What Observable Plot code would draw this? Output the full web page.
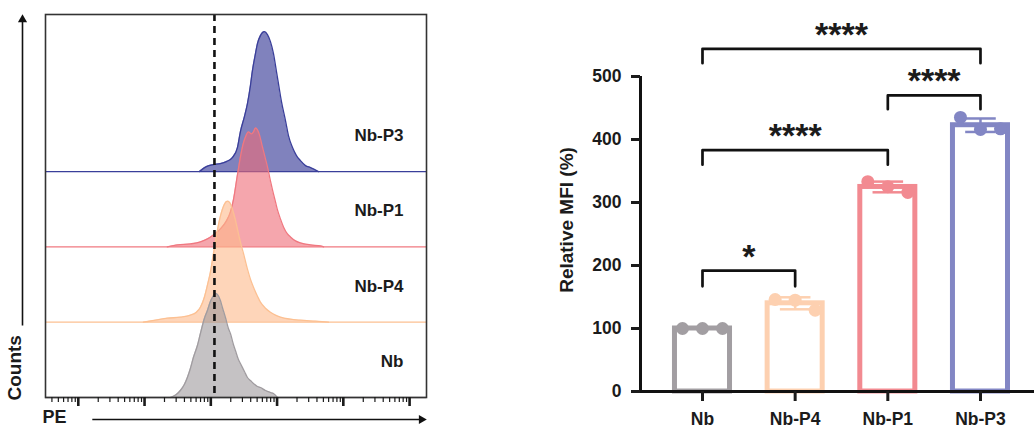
<!DOCTYPE html>
<html><head><meta charset="utf-8">
<script src="https://cdn.jsdelivr.net/npm/d3@7"></script>
<script src="https://cdn.jsdelivr.net/npm/@observablehq/plot@0.6"></script>
<style>
body{margin:0;background:#fff;}
#wrap{position:relative;width:1034px;height:432px;overflow:hidden;font-family:"Liberation Sans",Arial,sans-serif;}
#left{position:absolute;left:0;top:0;width:440px;height:432px;}
#right{position:absolute;left:540px;top:0;width:494px;height:432px;}
</style></head><body>
<div id="wrap"><div id="left"></div><div id="right"></div></div>
<script>
// ---------- Left panel: flow cytometry histograms (PE, log scale) ----------
const histGroups = ["Nb", "Nb-P4", "Nb-P1", "Nb-P3"]; // bottom to top
const nbPE = [245, 302, 347, 399, 443, 492, 546, 628, 697, 800, 889, 986, 1057, 1173, 1259, 1396, 1497, 1663, 1845, 1977, 2194, 2353, 2612, 2799, 3219, 3573, 3963, 4406, 5058, 5610, 6683, 7943, 8831, 10139];
const nbCounts = [0, 3, 7, 13, 20, 29, 40, 52, 64, 79, 87, 96, 100, 104, 103, 97, 90, 80, 69, 64, 53, 47, 38, 34, 26, 20, 17, 14, 11, 10, 7, 5, 4, 0];
const p4PE = [96, 146, 221, 347, 492, 606, 697, 800, 889, 986, 1057, 1173, 1259, 1396, 1497, 1605, 1782, 1910, 2119, 2353, 2523, 2799, 3105, 3573, 3963, 4406, 5058, 5610, 6683, 7943, 9462, 11246, 15926, 22542, 38019, 59700];
const p4Counts = [0, 2, 4, 5, 7, 10, 15, 25, 37, 50, 62, 80, 92, 106, 113, 118, 121, 120, 113, 102, 93, 80, 69, 53, 43, 35, 26, 20, 14, 10, 7, 5, 3, 2, 1, 0];
const p1PE = [221, 313, 492, 697, 889, 1094, 1396, 1721, 1977, 2194, 2523, 2799, 3105, 3334, 3698, 4104, 4406, 4721, 5058, 5420, 6012, 6683, 7161, 7943, 8531, 9462, 10139, 11246, 12496, 14355, 15926, 18967, 22542, 31977, 45290, 50234];
const p1Counts = [0, 2, 3, 5, 8, 12, 18, 26, 35, 47, 72, 90, 104, 110, 115, 113, 115, 119, 117, 112, 100, 88, 80, 66, 57, 45, 37, 28, 20, 13, 10, 6, 4, 2, 1, 0];
const p3PE = [673, 859, 1094, 1396, 1721, 2119, 2523, 2799, 3219, 3573, 3963, 4249, 4721, 5058, 5610, 6457, 7161, 7943, 8831, 9795, 10495, 11652, 13397, 14859, 17096, 19634, 22542, 26853, 31977, 42170];
const p3Counts = [0, 5, 7, 8, 10, 14, 24, 40, 55, 68, 86, 101, 118, 128, 136, 140, 137, 130, 118, 100, 88, 70, 51, 36, 24, 16, 11, 6, 4, 0];
const histFill = ["#9e9a9c", "#fdb98a", "#ef6b76", "#3c3f99"];
const histStroke = ["#a09ca0", "#fcc092", "#f07880", "#3a3f9a"];
const histOpacity = [0.6, 0.6, 0.6, 0.65];
const cutoffPE = 1135;
const peDomain = [3.2, 1.8e6];
const majorTicks = [10, 100, 1000, 1e4, 1e5, 1e6];

const histPE = [nbPE, p4PE, p1PE, p3PE];
const histCounts = [nbCounts, p4Counts, p1Counts, p3Counts];
const rowStep = 75.3;
const series = histGroups.map((name, k) => ({
  name, base: k * rowStep, fill: histFill[k], stroke: histStroke[k], opacity: histOpacity[k],
  points: histPE[k].map((pe, j) => ({pe, base: k * rowStep, top: k * rowStep + histCounts[k][j]}))
}));
const drawOrder = [...series].reverse();
const minorTicks = d3.range(0, 7).flatMap(e => d3.range(2, 10).map(k => k * Math.pow(10, e)))
  .filter(v => v > peDomain[0] && v < peDomain[1]);

const histMarks = drawOrder.flatMap(s => [
  Plot.ruleY([s.base], {stroke: s.stroke, strokeWidth: 1.3}),
  Plot.area(s.points, {x1: "pe", y1: "base", y2: "top", fill: s.fill, fillOpacity: s.opacity, curve: "monotone-x"}),
  Plot.line(s.points, {x: "pe", y: "top", stroke: s.stroke, strokeWidth: 1.3, curve: "monotone-x"})
]);

const countsArrow = [{pe: peDomain[0], y1: 72, y2: 378, tip: 383}];
const peArrow = [{x1: 18.7, x2: peDomain[1], y: 0}];

const leftPlot = Plot.plot({
  width: 440, height: 432, marginLeft: 45, marginRight: 14, marginTop: 14, marginBottom: 35,
  style: {fontFamily: "'Liberation Sans', Arial, sans-serif", fontWeight: "bold", color: "#1b1b1b", background: "transparent", overflow: "visible"},
  x: {type: "log", domain: peDomain, label: null},
  y: {domain: [0, 383], axis: null, label: null},
  marks: [
    ...histMarks,
    Plot.ruleX([cutoffPE], {stroke: "#111", strokeWidth: 2.6, strokeDasharray: "7,5"}),
    Plot.text(series, {x: peDomain[1], y: d => d.base + 36, text: "name", dx: -23, textAnchor: "end", fontSize: 17}),
    Plot.frame({stroke: "#333", strokeWidth: 1.6}),
    Plot.axisX({ticks: majorTicks, tickSize: 9, strokeWidth: 2.6, tickFormat: () => "", label: null}),
    Plot.axisX({ticks: minorTicks, tickSize: 5, strokeWidth: 1.2, tickFormat: () => "", label: null}),
    Plot.link(countsArrow, {x1: "pe", x2: "pe", y1: "y1", y2: "y2", dx: -23, stroke: "#111", strokeWidth: 1.6}),
    Plot.dot(countsArrow, {x: "pe", y: "tip", dx: -23, dy: 5, symbol: "triangle", r: 3.4, fill: "#111", stroke: "none"}),
    Plot.link(peArrow, {x1: "x1", x2: "x2", y1: "y", y2: "y", dy: 22, dx: -4, stroke: "#111", strokeWidth: 1.6}),
    Plot.dot(peArrow, {x: "x2", y: "y", dy: 22, dx: -5, rotate: 90, symbol: "triangle", r: 3.4, fill: "#111", stroke: "none"}),
    Plot.text(["PE"], {frameAnchor: "bottom-left", textAnchor: "start", dx: -3, dy: 25, fontSize: 18}),
    Plot.text(["Counts"], {frameAnchor: "bottom-left", rotate: -90, textAnchor: "start", dx: -25, dy: 3, fontSize: 19})
  ]
});
document.getElementById("left").appendChild(leftPlot);

// ---------- Right panel: Relative MFI bar chart ----------
const groups = ["Nb", "Nb-P4", "Nb-P1", "Nb-P3"];
const rep1 = [100, 146, 333, 435];
const rep2 = [100, 145, 325, 416];
const rep3 = [100, 129, 316, 417];
const barColors = ["#a29ea2", "#fdd0b0", "#f28a91", "#8286c4"];
const yTicks = [0, 100, 200, 300, 400, 500];
const bracketFrom = ["Nb", "Nb-P1", "Nb", "Nb"];
const bracketTo = ["Nb-P3", "Nb-P3", "Nb-P1", "Nb-P4"];
const bracketTop = [544, 470, 383, 192];
const bracketLeg = [521, 448, 360, 167];
const bracketStars = ["****", "****", "****", "*"];

const reps = [rep1, rep2, rep3];
const stats = groups.map((group, i) => {
  const vals = reps.map(r => r[i]);
  const mean = d3.mean(vals), sd = d3.deviation(vals) || 0;
  return {group, i, mean, lo: mean - sd, hi: mean + sd};
});
const pts = groups.flatMap((group, i) => reps.map((r, k) => ({group, i, rep: k, value: r[i]})));
const brackets = bracketFrom.map((f, b) => {
  const a = groups.indexOf(f), c = groups.indexOf(bracketTo[b]);
  return {id: b, a, c, mid: (a + c) / 2, top: bracketTop[b], leg: bracketLeg[b], stars: bracketStars[b]};
});
const bracketPts = brackets.flatMap(b => [
  {id: b.id, x: b.a, y: b.leg}, {id: b.id, x: b.a, y: b.top},
  {id: b.id, x: b.c, y: b.top}, {id: b.id, x: b.c, y: b.leg}
]);
const xDom = [-0.669, 3.583];

const rightPlot = Plot.plot({
  width: 494, height: 432, marginLeft: 100, marginRight: 0, marginTop: 76, marginBottom: 41,
  style: {fontFamily: "'Liberation Sans', Arial, sans-serif", fontWeight: "bold", color: "#1b1b1b", background: "transparent", overflow: "visible"},
  x: {domain: xDom, label: null},
  y: {domain: [0, 500], label: null},
  color: {domain: groups, range: barColors},
  marks: [
    Plot.rect(stats, {x1: d => d.i - 0.297, x2: d => d.i + 0.297, y1: 0, y2: "mean", fill: "white", stroke: "group", strokeWidth: 5}),
    Plot.ruleX(stats, {x: "i", y1: "lo", y2: "hi", stroke: "group", strokeWidth: 2.5}),
    Plot.link(stats, {x1: d => d.i - 0.165, x2: d => d.i + 0.165, y1: "hi", y2: "hi", stroke: "group", strokeWidth: 2.5}),
    Plot.link(stats, {x1: d => d.i - 0.165, x2: d => d.i + 0.165, y1: "lo", y2: "lo", stroke: "group", strokeWidth: 2.5}),
    Plot.dot(pts, {x: d => d.i + (d.rep - 1) * 0.216, y: "value", r: 6.5, fill: "group", stroke: "none"}),
    Plot.ruleY([0], {stroke: "#111", strokeWidth: 3}),
    Plot.ruleX([xDom[0]], {y1: 0, y2: 500, stroke: "#111", strokeWidth: 3}),
    Plot.axisY({ticks: yTicks, tickSize: 9, tickPadding: 10, strokeWidth: 3, fontSize: 17.5, label: null}),
    Plot.axisX({ticks: [0, 1, 2, 3], tickFormat: i => groups[i], tickSize: 10, tickPadding: 11, strokeWidth: 3, fontSize: 17.5, label: null}),
    Plot.line(bracketPts, {x: "x", y: "y", z: "id", stroke: "#111", strokeWidth: 2.7}),
    Plot.text(brackets, {x: "mid", y: "top", text: "stars", lineAnchor: "bottom", dy: -3, fontSize: 34}),
    Plot.text(["Relative MFI (%)"], {frameAnchor: "left", rotate: -90, textAnchor: "middle", dx: -74, dy: -14, fontSize: 19})
  ]
});
document.getElementById("right").appendChild(rightPlot);
</script></body></html>
